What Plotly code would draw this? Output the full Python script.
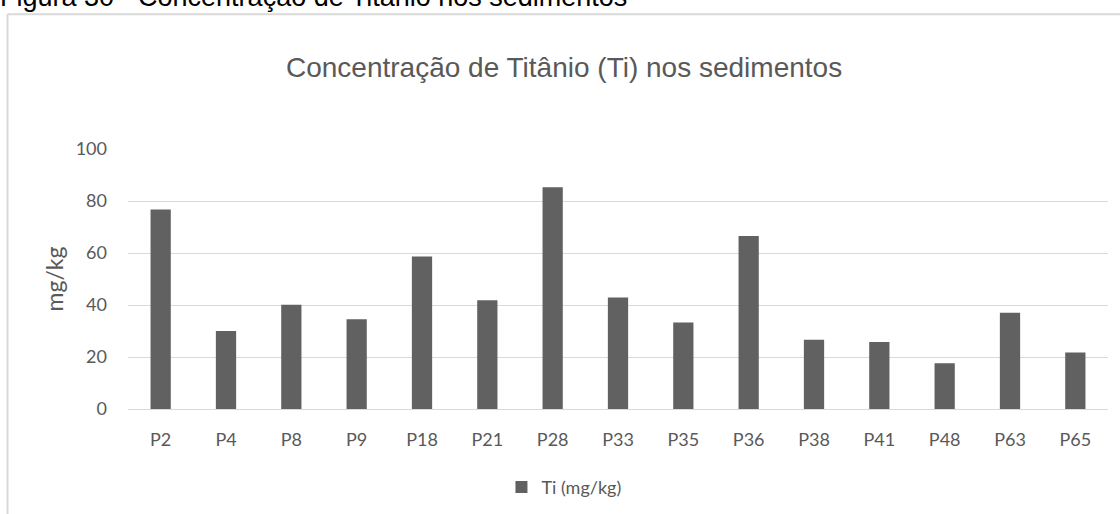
import plotly.graph_objects as go

# Sampling points and titanium concentration (mg/kg)
pontos = ["P2", "P4", "P8", "P9", "P18", "P21", "P28", "P33",
          "P35", "P36", "P38", "P41", "P48", "P63", "P65"]
titanio = [76.7, 30.0, 40.1, 34.5, 58.7, 41.8, 85.3, 42.9,
           33.3, 66.5, 26.6, 25.8, 17.6, 37.0, 21.7]
y_ticks = [0, 20, 40, 60, 80, 100]

W, H = 1120, 514
L, R, T, B = 128.4, 12.4, 149.0, 104.5
PW, PH = W - L - R, H - T - B


def px_x(x):
    return (x - L) / PW


def px_y(y):
    return (H - B - y) / PH


GREY_TXT = "#595959"
FONT_TICK = "Lato, 'Open Sans', sans-serif"
FONT_ARIAL = "'Liberation Sans', Arial, sans-serif"

fig = go.Figure()
fig.add_trace(go.Bar(
    x=pontos, y=titanio, name="Ti (mg/kg)",
    marker=dict(color="#616161", line=dict(width=0)),
))

fig.update_layout(
    width=W, height=H,
    margin=dict(l=L, r=R, t=T, b=B, pad=0, autoexpand=False),
    paper_bgcolor="white", plot_bgcolor="white",
    bargap=0.69,
    showlegend=True,
    legend=dict(
        orientation="h", x=px_x(564), xanchor="center",
        y=px_y(488), yanchor="middle",
        font=dict(family=FONT_TICK, size=18, color=GREY_TXT),
        itemwidth=30,
    ),
    xaxis=dict(
        showgrid=False, zeroline=False, showline=False,
        ticks="outside", ticklen=14, tickcolor="rgba(0,0,0,0)",
        tickfont=dict(family=FONT_TICK, size=18, color=GREY_TXT),
    ),
    yaxis=dict(
        range=[0, 100], tickvals=y_ticks, showgrid=True,
        gridcolor="#d9d9d9", gridwidth=1, zeroline=True,
        zerolinecolor="#d9d9d9", zerolinewidth=1, showline=False,
        ticklabelstandoff=20,
        tickfont=dict(family=FONT_TICK, size=18, color=GREY_TXT),
        title=dict(text="mg/kg", standoff=5,
                   font=dict(family=FONT_TICK, size=23, color=GREY_TXT)),
    ),
    annotations=[
        dict(text="Concentração de Titânio (Ti) nos sedimentos",
             xref="paper", yref="paper", x=px_x(564), y=px_y(67),
             xanchor="center", yanchor="middle", showarrow=False,
             font=dict(family=FONT_ARIAL, size=28, color=GREY_TXT)),
        dict(text="Figura 30 - Concentração de Titânio nos sedimentos",
             xref="paper", yref="paper", x=px_x(-1), y=px_y(-3),
             xanchor="left", yanchor="middle", showarrow=False,
             font=dict(family=FONT_ARIAL, size=27, color="black")),
    ],
    shapes=[
        dict(type="line", xref="paper", yref="paper",
             x0=px_x(8), x1=px_x(1125), y0=px_y(14), y1=px_y(14),
             line=dict(color="#d9d9d9", width=2)),
        dict(type="line", xref="paper", yref="paper",
             x0=px_x(8), x1=px_x(8), y0=px_y(14), y1=px_y(520),
             line=dict(color="#d9d9d9", width=2)),
    ],
)

fig.write_html("out.html")
